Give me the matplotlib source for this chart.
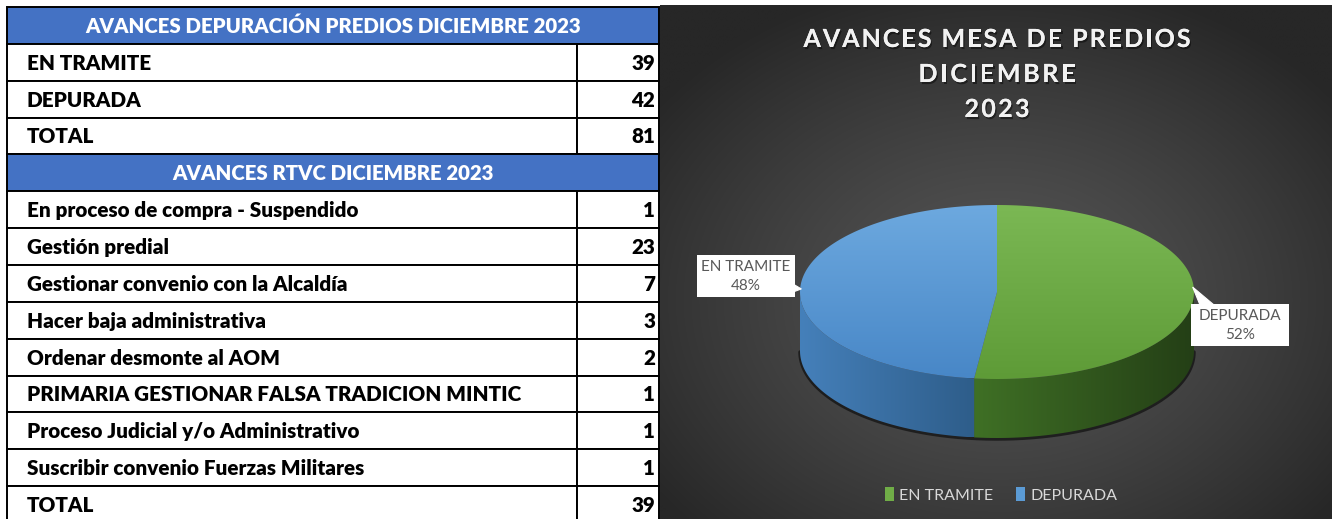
import numpy as np
import matplotlib
matplotlib.use("Agg")
import matplotlib.pyplot as plt
from matplotlib.patches import Rectangle, Polygon, Patch
from matplotlib.colors import to_rgb
import matplotlib.patheffects as pe
from matplotlib import font_manager
from matplotlib.font_manager import FontProperties

# ---------------- data ----------------
table1_title = "AVANCES DEPURACIÓN PREDIOS DICIEMBRE 2023"
table1_labels = ["EN TRAMITE", "DEPURADA", "TOTAL"]
table1_values = [39, 42, 81]

table2_title = "AVANCES RTVC DICIEMBRE 2023"
table2_labels = ["En proceso de compra - Suspendido", "Gestión predial",
                 "Gestionar convenio con la Alcaldía", "Hacer baja administrativa",
                 "Ordenar desmonte al AOM", "PRIMARIA GESTIONAR FALSA TRADICION MINTIC",
                 "Proceso Judicial y/o Administrativo", "Suscribir convenio Fuerzas Militares",
                 "TOTAL"]
table2_values = [1, 23, 7, 3, 2, 1, 1, 1, 39]

chart_title_lines = ["AVANCES MESA DE PREDIOS", "DICIEMBRE", "2023"]
pie_labels = ["DEPURADA", "EN TRAMITE"]      # clockwise from 12 o'clock
pie_values = [42, 39]
legend_labels = ["EN TRAMITE", "DEPURADA"]

# ---------------- styles ----------------
HEADER_BLUE = "#4472C4"
top_colors = [("#7BB854", "#5E9B37"), ("#6DA9DF", "#4887C7")]
side_colors = [("#3F7025", "#243F16"), ("#4580BA", "#2E5D8A")]
legend_colors = ["#70AD47", "#5B9BD5"]

avail = {f.name for f in font_manager.fontManager.ttflist}
REG_FONT = "Lato" if "Lato" in avail else "DejaVu Sans"


def wnum(w):
    if isinstance(w, (int, float)):
        return w
    return font_manager.weight_dict.get(str(w), 400)


def find_weight(target):
    for fam in ["Lato", "Roboto", "Open Sans"]:
        cands = [f for f in font_manager.fontManager.ttflist
                 if f.name == fam and f.style == "normal"
                 and "italic" not in f.fname.lower()
                 and wnum(f.weight) <= target and wnum(f.weight) >= 600]
        if cands:
            best = max(cands, key=lambda f: wnum(f.weight))
            return FontProperties(fname=best.fname)
    return FontProperties(family="DejaVu Sans", weight="bold")


HEAVY_FP = find_weight(800)
BOLD_FP = find_weight(700)

W, H = 1332, 519
fig = plt.figure(figsize=(W / 100, H / 100), dpi=100)
ax = fig.add_axes([0, 0, 1, 1])
ax.set_xlim(0, W)
ax.set_ylim(H, 0)
ax.axis("off")
renderer = fig.canvas.get_renderer()


def sized(fp, size):
    f = fp.copy()
    f.set_size(size)
    return f


def text_width(s, **kw):
    t = fig.text(0, 0, s, **kw)
    w = t.get_window_extent(renderer).width
    t.remove()
    return w


# ---------------- table ----------------
x0, xdiv, x1 = 7, 577, 659
row_h = 36.85
ytop = 7
n_rows = 1 + len(table1_labels) + 1 + len(table2_labels)
rows_y = [ytop + i * row_h for i in range(n_rows + 1)]

fs_lab = 14 * 496 / text_width("PRIMARIA GESTIONAR FALSA TRADICION MINTIC",
                               fontproperties=sized(HEAVY_FP, 14))
fs_head = 14 * 500 / text_width(table1_title, fontproperties=sized(HEAVY_FP, 14))
fp_lab = sized(HEAVY_FP, fs_lab)
fp_head = sized(HEAVY_FP, fs_head)

ri = 0
entries = [("head", table1_title, None)] + \
          [("row", l, v) for l, v in zip(table1_labels, table1_values)] + \
          [("head", table2_title, None)] + \
          [("row", l, v) for l, v in zip(table2_labels, table2_values)]
for kind, label, val in entries:
    ya, yb = rows_y[ri], rows_y[ri + 1]
    yc = (ya + yb) / 2 + 1
    if kind == "head":
        ax.add_patch(Rectangle((x0, ya), x1 - x0, yb - ya, facecolor=HEADER_BLUE,
                               edgecolor="black", lw=1.4, zorder=1))
        ax.text((x0 + x1) / 2, yc, label, ha="center", va="center", color="white",
                fontproperties=fp_head, zorder=3)
    else:
        ax.add_patch(Rectangle((x0, ya), xdiv - x0, yb - ya, facecolor="white",
                               edgecolor="black", lw=1.4, zorder=1))
        ax.add_patch(Rectangle((xdiv, ya), x1 - xdiv, yb - ya, facecolor="white",
                               edgecolor="black", lw=1.4, zorder=1))
        ax.text(27, yc, label, ha="left", va="center", color="black",
                fontproperties=fp_lab, zorder=3)
        ax.text(655, yc, str(val), ha="right", va="center", color="black",
                fontproperties=fp_lab, zorder=3)
    ri += 1

# ---------------- chart panel background ----------------
px0, py0 = 660, 5
gx = np.linspace(px0, W, 300)
gy = np.linspace(py0, H, 240)
GX, GY = np.meshgrid(gx, gy)
r = np.sqrt(((GX - 1000) / 430) ** 2 + ((GY - 300) / 330) ** 2)
r = np.clip(r, 0, 1)
c_in, c_out = 0x55 / 255, 0x27 / 255
val = c_in - (c_in - c_out) * r ** 1.3
img = np.dstack([val, val, val])
ax.imshow(img, extent=(px0, W, H, py0), origin="upper", aspect="auto", zorder=0,
          interpolation="bilinear")


# ---------------- gradient helper ----------------
def grad_fill(verts, c1, c2, direction, zorder):
    verts = np.asarray(verts)
    poly = Polygon(verts, closed=True, facecolor="none", edgecolor="none")
    ax.add_patch(poly)
    xmin, ymin = verts.min(axis=0)
    xmax, ymax = verts.max(axis=0)
    t = np.linspace(0, 1, 256)
    a, b = np.array(to_rgb(c1)), np.array(to_rgb(c2))
    cols = a[None, :] * (1 - t[:, None]) + b[None, :] * t[:, None]
    if direction == "h":
        arr = np.repeat(cols[None, :, :], 2, axis=0)
    else:
        arr = np.repeat(cols[:, None, :], 2, axis=1)
    im = ax.imshow(arr, extent=(xmin, xmax, ymax, ymin), origin="upper", aspect="auto",
                   zorder=zorder, interpolation="bilinear")
    im.set_clip_path(poly)


# ---------------- 3D pie ----------------
cx, cy, ea, eb, depth = 997, 292, 197, 87, 59


def pt(theta, dy=0.0):
    th = np.radians(theta)
    return cx + ea * np.sin(th), cy - eb * np.cos(th) + dy


fracs = np.array(pie_values) / np.sum(pie_values)
bounds = np.concatenate([[0], np.cumsum(fracs) * 360])

th_b = np.linspace(90, 270, 200)
bx, by = pt(th_b, depth)
ax.plot(bx, by + 1, color="black", lw=2.5, alpha=0.55, zorder=1.5,
        solid_capstyle="round")

for i in range(len(pie_values)):
    a0, a1 = bounds[i], bounds[i + 1]
    s0, s1 = max(a0, 90), min(a1, 270)
    if s1 > s0:
        th = np.linspace(s0, s1, 120)
        tx, ty = pt(th)
        bx2, by2 = pt(th[::-1], depth)
        verts = np.column_stack([np.concatenate([tx, bx2]), np.concatenate([ty, by2])])
        grad_fill(verts, side_colors[i][0], side_colors[i][1], "h", 2)
    th = np.linspace(a0, a1, 200)
    tx, ty = pt(th)
    verts = np.column_stack([np.concatenate([[cx], tx]), np.concatenate([[cy], ty])])
    grad_fill(verts, top_colors[i][0], top_colors[i][1], "v", 3)

# ---------------- data labels ----------------
lab_font = dict(family=REG_FONT, fontsize=11, color="#595959")
label_boxes = {"EN TRAMITE": (746, 276), "DEPURADA": (1240, 325)}
for i, name in enumerate(pie_labels):
    mid = (bounds[i] + bounds[i + 1]) / 2
    axp = pt(mid)
    bxc, byc = label_boxes[name]
    pct = f"{fracs[i] * 100:.0f}%"
    ax.add_patch(Rectangle((bxc - 49, byc - 21), 98, 42, facecolor="white",
                           edgecolor="none", zorder=5))
    ax.text(bxc, byc - 9, name, ha="center", va="center", zorder=6, **lab_font)
    ax.text(bxc, byc + 10, pct, ha="center", va="center", zorder=6, **lab_font)
    if bxc < cx:
        tri = [(bxc + 47, byc + 8), (bxc + 47, byc + 16), (axp[0] + 1, axp[1] + 2)]
    else:
        tri = [(bxc - 40, byc - 20), (bxc - 26, byc - 20), (axp[0] - 1, axp[1] - 10)]
    ax.add_patch(Polygon(tri, closed=True, facecolor="white", edgecolor="white",
                         lw=0.8, zorder=5))

# ---------------- title ----------------
title_fp = sized(BOLD_FP, 18)
title_kw = dict(fontproperties=title_fp, color="#F2F2F2")
shadow = [pe.withSimplePatchShadow(offset=(1, -1.5), shadow_rgbFace="black", alpha=0.45),
          pe.Normal()]


def spaced_text(xc, ybase, s, target_w):
    bar = text_width("||", **title_kw)
    widths = [text_width("|" + c + "|", **title_kw) - bar for c in s]
    spacing = (target_w - sum(widths)) / max(len(s) - 1, 1)
    x = xc - target_w / 2
    for c, w in zip(s, widths):
        t = ax.text(x, ybase, c, ha="left", va="baseline", zorder=6, **title_kw)
        t.set_path_effects(shadow)
        x += w + spacing


title_widths = [387, 157, 65]
title_base = [47, 82, 117]
for s, tw, yb in zip(chart_title_lines, title_widths, title_base):
    spaced_text(997, yb, s, tw)

# ---------------- legend ----------------
handles = [Patch(facecolor=c, edgecolor="none") for c in legend_colors]
leg = fig.legend(handles, legend_labels, loc="center",
                 bbox_to_anchor=(1001 / W, 1 - 495 / H), ncol=2, frameon=False,
                 prop=dict(family=REG_FONT, size=11.5), handlelength=0.6,
                 handleheight=0.9, handletextpad=0.3, columnspacing=1.4)
for t in leg.get_texts():
    t.set_color("#D9D9D9")

ax.set_xlim(0, W)
ax.set_ylim(H, 0)
fig.savefig("out.png", dpi=100)
